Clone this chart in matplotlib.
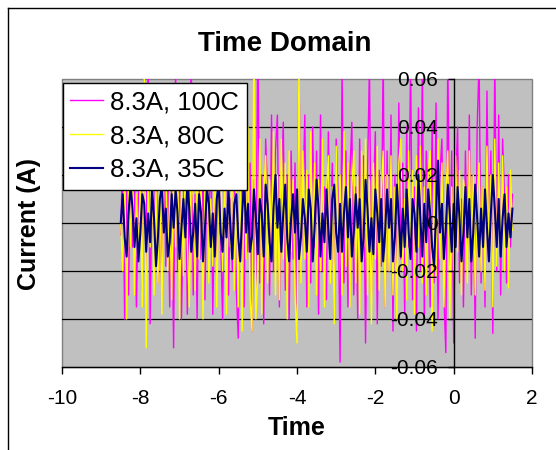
import numpy as np
import matplotlib
matplotlib.use("Agg")
import matplotlib.pyplot as plt
from matplotlib.lines import Line2D

plt.rcParams['font.family'] = ['Liberation Sans', 'DejaVu Sans']
plt.rcParams['axes.unicode_minus'] = False

# Sampled time grid
t_start, t_stop, n_samples = -8.5, 1.5, 201
time = np.linspace(t_start, t_stop, n_samples)

series_labels = ["8.3A, 100C", "8.3A, 80C", "8.3A, 35C"]

current_100c = [
    -0.005, 0.030, -0.040, 0.015, -0.030, 0.035, -0.010, 0.020, -0.035, 0.010,
    0.025, -0.028, 0.075, -0.020, 0.070, -0.042, 0.020, -0.015, 0.030, -0.025,
    0.010, -0.030, 0.040, -0.018, 0.022, -0.035, 0.015, -0.052, 0.065, -0.020,
    0.030, -0.040, 0.008, 0.025, -0.038, 0.018, 0.070, -0.030, 0.012, -0.040,
    0.035, -0.015, 0.020, -0.032, 0.028, -0.010, 0.040, -0.038, 0.015, -0.025,
    0.030, -0.005, -0.040, 0.022, 0.045, -0.030, 0.010, -0.020, 0.035, -0.028,
    -0.048, 0.030, 0.012, -0.035, 0.040, -0.012, 0.025, -0.045, 0.018, -0.030,
    0.080, -0.025, 0.020, -0.042, 0.035, 0.010, -0.030, 0.045, -0.020, 0.030,
    0.045, -0.035, 0.015, 0.042, -0.028, 0.020, -0.040, 0.030, -0.015, 0.025,
    -0.045, 0.070, -0.020, 0.010, 0.045, -0.035, 0.020, -0.025, 0.040, -0.010,
    0.030, -0.038, 0.045, -0.020, 0.015, -0.032, 0.038, -0.012, 0.025, -0.040,
    0.035, 0.010, -0.058, 0.065, -0.025, 0.030, -0.035, 0.020, 0.042, -0.030,
    0.015, -0.040, 0.035, -0.015, 0.028, -0.050, 0.020, 0.066, -0.030, 0.010,
    0.038, -0.042, 0.022, -0.018, 0.070, -0.035, 0.030, -0.020, 0.045, -0.045,
    0.020, -0.030, 0.050, -0.015, 0.025, -0.038, 0.040, -0.010, 0.068, -0.032,
    0.015, -0.045, 0.048, -0.020, 0.065, -0.040, 0.030, 0.010, -0.035, 0.042,
    -0.025, 0.050, -0.040, 0.020, 0.035, -0.030, -0.054, 0.070, -0.020, 0.030,
    -0.050, 0.015, 0.040, -0.025, 0.010, -0.035, 0.030, -0.015, 0.045, -0.030,
    0.020, -0.048, 0.040, 0.068, -0.025, 0.015, -0.035, 0.055, -0.010, 0.030,
    -0.046, 0.070, -0.020, 0.045, -0.030, 0.035, 0.010, -0.025, 0.020, -0.010,
    0.012,
]

current_80c = [
    0.000, -0.020, 0.025, -0.040, 0.015, -0.010, 0.030, -0.030, 0.012, -0.015,
    0.020, -0.035, 0.070, -0.052, 0.020, -0.010, 0.028, -0.030, 0.015, -0.025,
    0.022, -0.038, 0.018, 0.030, -0.020, 0.012, -0.032, 0.025, -0.010, 0.035,
    -0.040, 0.015, -0.022, 0.030, -0.008, -0.035, 0.025, 0.010, -0.028, 0.032,
    -0.015, 0.020, -0.040, 0.015, 0.035, -0.025, 0.010, -0.018, 0.028, -0.035,
    0.012, 0.030, -0.020, 0.018, -0.038, 0.025, -0.010, 0.032, -0.028, 0.015,
    -0.035, 0.020, -0.045, 0.030, -0.015, 0.040, -0.030, -0.045, 0.075, -0.040,
    -0.020, 0.035, -0.038, 0.012, 0.028, -0.025, 0.018, -0.010, 0.038, -0.030,
    0.020, -0.032, 0.035, -0.015, 0.025, -0.040, 0.030, -0.012, 0.018, -0.030,
    -0.050, 0.070, -0.025, 0.030, -0.015, 0.022, -0.035, 0.038, -0.010, 0.025,
    -0.030, 0.018, -0.020, 0.035, -0.035, 0.012, 0.028, -0.025, 0.015, -0.042,
    0.032, -0.010, 0.020, -0.030, 0.038, -0.018, 0.025, -0.035, 0.015, 0.030,
    -0.025, 0.020, -0.038, 0.030, -0.010, 0.035, -0.030, 0.018, -0.042, 0.025,
    -0.015, 0.032, -0.028, 0.012, 0.030, -0.035, 0.020, -0.020, 0.028, -0.030,
    0.015, -0.040, 0.025, 0.035, -0.020, 0.010, -0.032, 0.030, -0.015, 0.022,
    -0.038, 0.028, -0.010, 0.032, -0.025, 0.015, -0.030, 0.020, 0.030, -0.045,
    0.018, -0.022, 0.035, -0.015, 0.025, -0.035, 0.010, 0.030, -0.040, 0.015,
    -0.020, 0.028, -0.012, 0.022, -0.030, 0.018, 0.010, -0.025, 0.030, -0.015,
    0.020, -0.030, 0.012, 0.025, -0.020, 0.015, -0.028, 0.032, -0.010, 0.020,
    -0.035, 0.035, -0.018, 0.025, -0.012, 0.028, -0.020, 0.015, -0.027, 0.022,
    -0.003,
]

current_35c = [
    0.000, 0.012, -0.006, -0.014, 0.004, 0.016, 0.006, -0.010, 0.002, -0.016,
    -0.004, 0.012, 0.008, -0.012, 0.004, -0.008, 0.014, 0.002, -0.018, -0.006,
    0.010, 0.016, -0.004, 0.006, -0.014, -0.008, 0.012, -0.002, 0.014, 0.004,
    -0.015, -0.002, 0.010, -0.006, 0.016, 0.006, -0.012, -0.004, 0.008, -0.014,
    0.012, 0.004, -0.016, -0.002, 0.014, 0.008, -0.010, 0.004, -0.014, 0.010,
    0.016, -0.004, -0.012, 0.006, -0.006, 0.014, -0.002, -0.015, 0.008, 0.012,
    -0.006, -0.016, 0.004, 0.018, -0.004, 0.008, -0.012, -0.006, 0.014, 0.002,
    -0.013, 0.010, 0.004, -0.014, 0.016, 0.008, -0.008, -0.016, 0.006, 0.020,
    -0.002, 0.010, -0.012, 0.004, 0.016, -0.006, -0.016, 0.002, 0.012, -0.004,
    0.014, -0.015, -0.006, 0.010, 0.002, -0.012, 0.014, 0.006, -0.016, -0.002,
    0.018, 0.006, -0.014, 0.004, -0.008, 0.014, -0.002, -0.015, 0.010, 0.016,
    -0.004, -0.012, 0.008, -0.012, 0.004, 0.015, -0.006, 0.010, -0.014, -0.004,
    0.012, -0.002, 0.010, -0.016, -0.006, 0.018, 0.006, -0.012, 0.002, -0.013,
    0.014, 0.004, -0.008, 0.010, -0.016, -0.004, 0.014, -0.002, 0.010, -0.016,
    -0.006, 0.016, 0.002, -0.014, 0.006, -0.010, 0.014, -0.004, -0.015, 0.010,
    0.004, -0.012, 0.020, 0.002, -0.014, 0.008, -0.008, 0.014, 0.004, -0.010,
    -0.018, 0.004, 0.026, -0.004, 0.008, -0.015, -0.002, 0.016, 0.004, -0.012,
    0.008, -0.010, 0.015, 0.002, -0.016, -0.004, 0.015, -0.006, 0.010, -0.016,
    -0.004, 0.016, 0.002, -0.014, 0.006, -0.010, 0.014, -0.002, -0.016, 0.004,
    0.020, 0.006, -0.010, 0.010, -0.014, 0.002, 0.012, -0.010, 0.004, -0.006,
    0.006,
]

series_values = [current_100c, current_80c, current_35c]
series_colors = ["#FF00FF", "#FFFF00", "#000080"]
series_widths = [1.0, 1.0, 1.5]

x_ticks = [-10, -8, -6, -4, -2, 0, 2]
y_ticks = [-0.06, -0.04, -0.02, 0, 0.02, 0.04, 0.06]
y_tick_labels = ["-0.06", "-0.04", "-0.02", "0", "0.02", "0.04", "0.06"]

W, H = 556, 450
fig = plt.figure(figsize=(W / 100, H / 100), dpi=100)
fig.patch.set_facecolor("white")

# plot area in pixels: left, top, right, bottom
L, T, R, B = 62, 79, 532, 367
ax = fig.add_axes([L / W, 1 - B / H, (R - L) / W, (B - T) / H])
ax.set_facecolor("#C0C0C0")
ax.patch.set_edgecolor("#808080")
ax.patch.set_linewidth(1.0)

ax.set_xlim(-10, 2)
ax.set_ylim(-0.06, 0.06)

# horizontal gridlines behind the data
for yv in y_ticks[1:-1]:
    ax.axhline(yv, color="black", lw=0.9, zorder=1)

for vals, col, lw, lab in zip(series_values, series_colors, series_widths, series_labels):
    ax.plot(time, vals, color=col, lw=lw, label=lab, zorder=2)

# axes: value axis crosses at time 0
for side in ("top", "right"):
    ax.spines[side].set_visible(False)
ax.spines["left"].set_position(("data", 0))
ax.spines["left"].set_color("black")
ax.spines["left"].set_linewidth(1.0)
ax.spines["bottom"].set_color("black")
ax.spines["bottom"].set_linewidth(1.0)
ax.yaxis.set_zorder(3)

ax.set_xticks(x_ticks)
ax.set_xticklabels([str(v) for v in x_ticks])
ax.set_yticks(y_ticks)
ax.set_yticklabels(y_tick_labels)
ax.tick_params(axis="x", direction="out", length=5, width=1, labelsize=15, pad=11, color="black")
ax.tick_params(axis="y", direction="out", length=4.5, width=1, labelsize=15, pad=7, color="black")

fig.text(285 / W, 1 - 44 / H, "Time Domain", ha="center", va="center",
         fontsize=20, fontweight="bold")
fig.text((L + R) / 2 / W, 1 - 428 / H, "Time", ha="center", va="center",
         fontsize=18, fontweight="bold")
fig.text(29 / W, 1 - 224 / H, "Current (A)", ha="center", va="center",
         rotation=90, fontsize=18, fontweight="bold")

leg = ax.legend(loc="upper left", bbox_to_anchor=(62.7 / W, 1 - 82.7 / H),
                bbox_transform=fig.transFigure, borderaxespad=0, fontsize=18.5,
                frameon=True, fancybox=False, shadow=False, framealpha=1,
                edgecolor="black", borderpad=0.3, labelspacing=0.38,
                handlelength=1.25, handletextpad=0.3)
leg.get_frame().set_linewidth(1.0)
leg.set_zorder(5)

# chart area border
fig.add_artist(Line2D([8 / W, 8 / W], [0, 1 - 8 / H], color="black", lw=1.0,
                      transform=fig.transFigure))
fig.add_artist(Line2D([8 / W, 1], [1 - 8 / H, 1 - 8 / H], color="black", lw=1.0,
                      transform=fig.transFigure))

fig.savefig("out.png", dpi=100)
